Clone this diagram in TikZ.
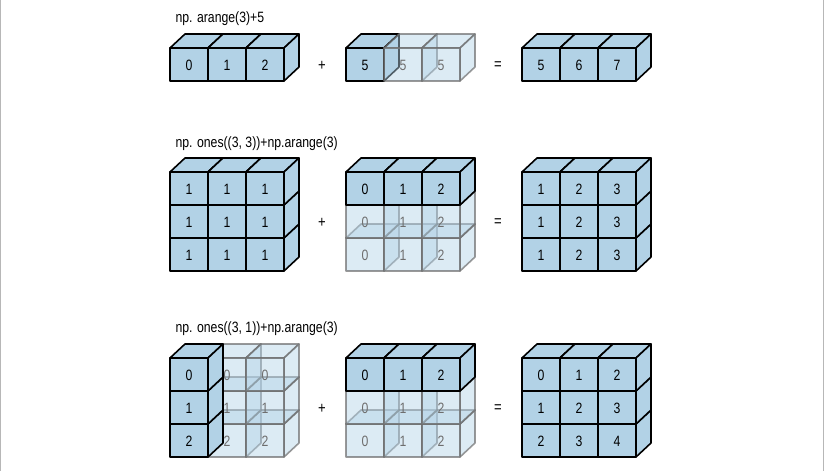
\documentclass[tikz,border=0pt]{standalone}
\usepackage{fontspec}
\setmainfont[FakeStretch=0.82]{Liberation Sans}
\definecolor{cb}{RGB}{178,210,230}
\definecolor{lg}{RGB}{110,110,110}
\tikzset{
 opq/.style={fill=cb,draw=black,line width=1.6pt,line join=round},
 trn/.style={fill=cb,fill opacity=0.45,draw=lg,draw opacity=0.7,line width=1.6pt,line join=round},
 lbl/.style={font=\fontsize{15}{15}\selectfont,anchor=base west},
 num/.style={font=\fontsize{15}{15}\selectfont},
 op/.style={font=\fontsize{16}{16}\selectfont}
}
\newcommand\mycube[4]{% x y label style
 \path[#4] (#1,#2) -- ++(15,-14) -- ++(38,0) -- ++(-15,14) -- cycle;
 \path[#4] (#1+38,#2) -- ++(15,-14) -- ++(0,33) -- ++(-15,14) -- cycle;
 \path[#4] (#1,#2) rectangle ++(38,33);
 \ifx o#4\relax\fi
}
\newcommand\oc[3]{\mycube{#1}{#2}{#3}{opq}\node[num] at (#1+19,#2+17) {#3};}
\newcommand\tc[3]{\mycube{#1}{#2}{#3}{trn}\node[num,text=lg] at (#1+19,#2+17) {#3};}
\begin{document}
\begin{tikzpicture}[x=1bp,y=-1bp]
\useasboundingbox (0,0) rectangle (824,471);
\draw[lg!50,line width=1pt] (0.5,0)--(0.5,471) (823.5,0)--(823.5,471);
% row 1
\node[lbl] (l1) at (172,23) {np. arange(3)+5};
\oc{170}{48}{0}\oc{208}{48}{1}\oc{246}{48}{2}
\node[op] (p1) at (322,66) {+};
\oc{346}{48}{5}\tc{384}{48}{5}\tc{422}{48}{5}
\node[op] (e1) at (498,66) {=};
\oc{522}{48}{5}\oc{560}{48}{6}\oc{598}{48}{7}
% row 2
\node[lbl] (l2) at (172,148) {np. ones((3, 3))+np.arange(3)};
\foreach \r in {2,1,0}{\foreach \c in {0,1,2}{\oc{170+38*\c}{172+33*\r}{1}}}
\node[op] (p2) at (322,223) {+};
\foreach \r in {2,1}{\foreach \c in {0,1,2}{\tc{346+38*\c}{172+33*\r}{\c}}}
\foreach \c in {0,1,2}{\oc{346+38*\c}{172}{\c}}
\node[op] (e2) at (498,223) {=};
\foreach \r in {2,1,0}{\foreach \c/\v in {0/1,1/2,2/3}{\oc{522+38*\c}{172+33*\r}{\v}}}
% row 3
\node[lbl] (l3) at (172,333) {np. ones((3, 1))+np.arange(3)};
\foreach \r in {2,1,0}{\foreach \c in {1,2}{\tc{170+38*\c}{358+33*\r}{\r}}}
\foreach \r in {2,1,0}{\oc{170}{358+33*\r}{\r}}
\node[op] (p3) at (322,409) {+};
\foreach \r in {2,1}{\foreach \c in {0,1,2}{\tc{346+38*\c}{358+33*\r}{\c}}}
\foreach \c in {0,1,2}{\oc{346+38*\c}{358}{\c}}
\node[op] (e3) at (498,409) {=};
\foreach \r in {2,1,0}{\foreach \c in {0,1,2}{\pgfmathtruncatemacro\v{\r+\c}\oc{522+38*\c}{358+33*\r}{\v}}}
\end{tikzpicture}
\end{document}
